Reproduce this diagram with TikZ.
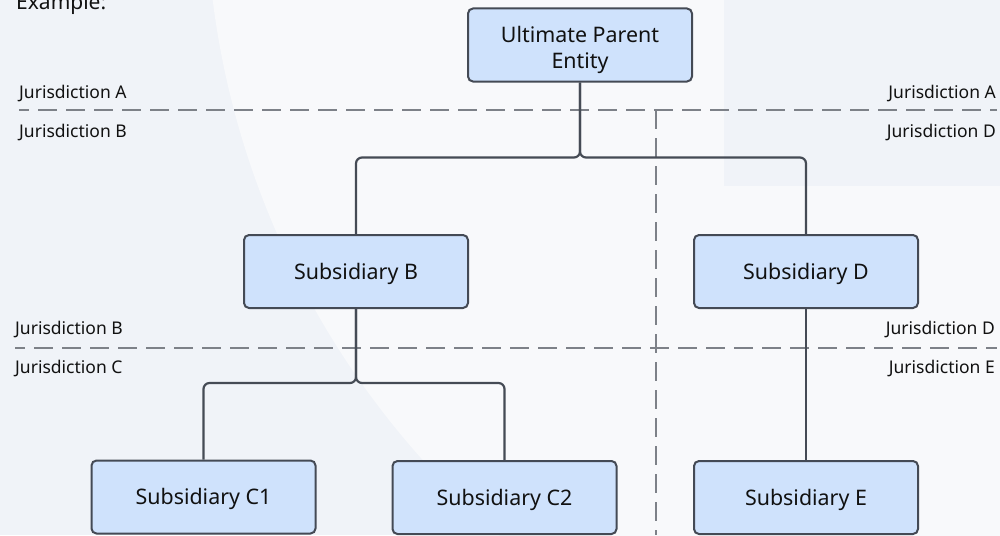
\documentclass[tikz,border=0pt]{standalone}
\usepackage{fontspec}
\setmainfont{Noto Sans}
\definecolor{bgdark}{HTML}{F0F3F8}
\definecolor{bglight}{HTML}{F8F9FB}
\definecolor{boxfill}{HTML}{CFE2FC}
\definecolor{boxline}{HTML}{444A55}
\definecolor{linkcol}{HTML}{454B55}
\definecolor{dashcol}{HTML}{7D8188}
\definecolor{ink}{HTML}{111111}
\begin{document}
\begin{tikzpicture}[x=1pt,y=-1pt,
  entity/.style={draw=boxline, fill=boxfill, line width=2pt, rounded corners=5pt,
    minimum width=224pt, minimum height=73pt, inner sep=0pt,
    font=\fontsize{21.4}{25}\selectfont, text=ink, text height=16pt, text depth=1pt},
  link/.style={draw=linkcol, line width=2.2pt, rounded corners=6pt},
  border/.style={draw=dashcol, line width=1.3pt, dash pattern=on 19pt off 9pt, dash phase=9pt},
  juris/.style={font=\fontsize{17.5}{20}\selectfont, text=ink, inner sep=0pt}
]
\useasboundingbox (0,0) rectangle (1000,535);
% background panels
\begin{scope}
  \clip (0,0) rectangle (1000,535);
  \fill[bgdark] (0,0) rectangle (1000,535);
  \fill[bglight] (1056,-107) circle[radius=850pt];
  \fill[bgdark] (724,0) rectangle (1000,186);
\end{scope}

\node[anchor=base west, inner sep=0pt, font=\fontsize{21}{24}\selectfont, text=ink] (title) at (16,9.5) {Example:};

% jurisdiction boundaries
\coordinate (bA1) at (19,110);  \coordinate (bA2) at (997,110);
\coordinate (bB1) at (15,348);  \coordinate (bB2) at (997,348);
\coordinate (bV1) at (656,110); \coordinate (bV2) at (656,535);
\draw[border] (bA1) -- (bA2);
\draw[border] (bB1) -- (bB2);
\draw[border, dash phase=0pt] (bV1) -- (bV2);

% jurisdiction labels
\node[juris, anchor=base west] (lA) at (19,98) {Jurisdiction A};
\node[juris, anchor=base west] (lB) at (19,137) {Jurisdiction B};
\node[juris, anchor=base east] (rA) at (996,98) {Jurisdiction A};
\node[juris, anchor=base east] (rD) at (996,137) {Jurisdiction D};
\node[juris, anchor=base west] (lB2) at (15,334) {Jurisdiction B};
\node[juris, anchor=base west] (lC) at (15,373) {Jurisdiction C};
\node[juris, anchor=base east] (rD2) at (995,334) {Jurisdiction D};
\node[juris, anchor=base east] (rE) at (995,373) {Jurisdiction E};

% entities
\node[entity, text height=0pt, text depth=4pt] (top) at (580,45)
  {\begin{tabular}[t]{@{}c@{}}Ultimate Parent\\Entity\end{tabular}};
\node[entity] (subB) at (356,271.5) {Subsidiary B};
\node[entity] (subD) at (806,271.5) {Subsidiary D};
\node[entity] (subC1) at (203.5,497) {Subsidiary C1};
\node[entity] (subC2) at (504.5,497.5) {Subsidiary C2};
\node[entity] (subE) at (806,497.5) {Subsidiary E};

% ownership links
\draw[link] (top.south) -- ++(0,75) -| (subB.north);
\draw[link] (top.south) -- ++(0,75) -| (subD.north);
\draw[link] (subB.south) -- ++(0,74) -| (subC1.north);
\draw[link] (subB.south) -- ++(0,74) -| (subC2.north);
\draw[link] (subD.south) -- (subE.north);
\end{tikzpicture}
\end{document}
